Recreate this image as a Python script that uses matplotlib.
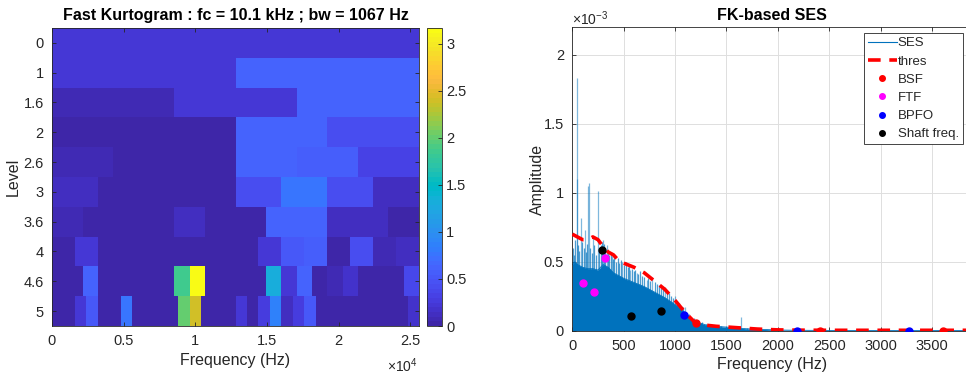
import numpy as np
import matplotlib
matplotlib.use("Agg")
import matplotlib.pyplot as plt
from matplotlib.colors import ListedColormap, Normalize
from matplotlib.cm import ScalarMappable
from matplotlib.lines import Line2D

plt.rcParams['font.family'] = ['Liberation Sans', 'DejaVu Sans']
plt.rcParams['mathtext.fontset'] = 'custom'
plt.rcParams['mathtext.rm'] = 'Liberation Sans'
plt.rcParams['mathtext.it'] = 'Liberation Sans'

# ---------------- data: kurtogram ----------------
level_labels = ['0', '1', '1.6', '2', '2.6', '3', '3.6', '4', '4.6', '5']
fmax_hz = 25600
kurt_l0 = [0.23]
kurt_l1 = [0.20, 0.63]
kurt_l16 = [0.05, 0.20, 0.62]
kurt_l2 = [0.02, 0.02, 0.62, 0.43]
kurt_l26 = [0.08, 0.03, 0.03, 0.62, 0.55, 0.30]
kurt_l3 = [0.10, 0.03, 0.03, 0.03, 0.40, 0.78, 0.41, 0.12]
kurt_l36 = [0.09, 0.03, 0.03, 0.03, 0.10, 0.03, 0.03, 0.60, 0.63, 0.13, 0.12, 0.02]
kurt_l4 = [0.04, 0.23, 0.03, 0.03, 0.03, 0.03, 0.03, 0.03, 0.03, 0.24, 0.52, 0.55,
           0.03, 0.42, 0.05, 0.10]
kurt_l46 = [0.03, 0.03, 0.60, 0.03, 0.03, 0.03, 0.03, 0.03, 1.84, 3.17, 0.03, 0.03,
            0.03, 0.03, 1.33, 0.24, 0.60, 0.03, 0.07, 0.17, 0.03, 0.03, 0.03, 0.36]
kurt_l5 = [0.03, 0.03, 0.23, 0.50, 0.03, 0.03, 0.78, 0.03, 0.03, 0.03, 0.03, 2.00,
           2.39, 0.03, 0.03, 0.03, 0.23, 0.03, 0.25, 0.88, 0.13, 0.25, 0.50, 0.03,
           0.03, 0.03, 0.03, 0.03, 0.03, 0.03, 0.03, 0.18]
kurt_rows = [kurt_l0, kurt_l1, kurt_l16, kurt_l2, kurt_l26, kurt_l3, kurt_l36,
             kurt_l4, kurt_l46, kurt_l5]
kurt_xticks = [0, 5000, 10000, 15000, 20000, 25000]
kurt_xticklabels = ['0', '0.5', '1', '1.5', '2', '2.5']
cbar_ticks = [0, 0.5, 1, 1.5, 2, 2.5, 3]
cbar_ticklabels = ['0', '0.5', '1', '1.5', '2', '2.5', '3']

# ---------------- data: SES (amplitudes in units of 1e-3) ----------------
ses_f = [0, 25, 50, 100, 150, 200, 250, 300, 350, 400, 500, 600, 700, 800, 900,
         1000, 1100, 1150, 1200, 1300, 1400, 1500, 1600, 1700, 1800, 1900, 2000,
         2200, 2500, 3000, 3500, 3900]
ses_dense = [0.48, 0.50, 0.48, 0.46, 0.45, 0.45, 0.44, 0.48, 0.46, 0.42, 0.38, 0.35,
             0.32, 0.28, 0.24, 0.19, 0.13, 0.095, 0.065, 0.042, 0.032, 0.026, 0.019,
             0.014, 0.011, 0.008, 0.005, 0.003, 0.002, 0.002, 0.002, 0.002]
spike_f = [41, 49, 81, 120, 156, 163, 205, 247, 300, 334, 383, 485, 565, 626, 723,
           780, 902, 999, 1096, 1645]
spike_a = [1.83, 1.10, 0.82, 0.73, 1.05, 1.07, 0.69, 1.01, 0.66, 0.62, 0.54, 0.50,
           0.44, 0.42, 0.37, 0.39, 0.32, 0.25, 0.17, 0.10]
minor_f = [10, 20, 30, 60, 70, 90, 110, 130, 140, 175, 190, 215, 230, 260, 275, 290,
           310, 320, 345, 360, 375, 395, 410, 425, 440, 455, 470, 500, 520, 540, 555,
           580, 600, 615, 640, 660, 680, 700, 740, 760, 800, 820, 840, 860, 880, 920,
           940, 960, 980, 1020, 1040, 1060, 1080, 1120, 1140, 1180, 1220, 1260, 1300,
           1350, 1400, 1450, 1500, 1550, 1600, 1700, 1750, 1800]
minor_a = [0.60, 0.55, 0.66, 0.62, 0.58, 0.64, 0.60, 0.57, 0.63, 0.60, 0.56, 0.62,
           0.55, 0.58, 0.62, 0.64, 0.63, 0.60, 0.58, 0.55, 0.57, 0.52, 0.55, 0.50,
           0.53, 0.49, 0.51, 0.48, 0.50, 0.46, 0.47, 0.45, 0.43, 0.44, 0.41, 0.43,
           0.40, 0.39, 0.38, 0.36, 0.35, 0.34, 0.33, 0.31, 0.30, 0.28, 0.27, 0.25,
           0.24, 0.21, 0.20, 0.18, 0.17, 0.13, 0.12, 0.09, 0.07, 0.06, 0.05, 0.045,
           0.04, 0.035, 0.033, 0.03, 0.028, 0.022, 0.02, 0.017]
thr_f = [0, 50, 100, 150, 200, 250, 300, 350, 400, 450, 500, 600, 700, 800, 900,
         1000, 1100, 1200, 1300, 1400, 1600, 1800, 2000, 2200, 2500, 3000, 3500, 3900]
thr_a = [0.70, 0.68, 0.66, 0.66, 0.68, 0.66, 0.61, 0.57, 0.55, 0.51, 0.49, 0.46,
         0.42, 0.36, 0.30, 0.22, 0.13, 0.055, 0.04, 0.032, 0.022, 0.012, 0.006,
         0.004, 0.003, 0.003, 0.003, 0.003]
bsf_f = [1204, 2408, 3612]
bsf_a = [0.053, 0.0, 0.0]
ftf_f = [107, 214, 321]
ftf_a = [0.343, 0.278, 0.527]
bpfo_f = [1091, 2182, 3273]
bpfo_a = [0.116, 0.0, 0.0]
shaft_f = [287, 575, 863]
shaft_a = [0.585, 0.104, 0.140]
ses_xticks = [0, 500, 1000, 1500, 2000, 2500, 3000, 3500]
ses_yticks = [0, 0.5, 1, 1.5, 2]
ses_yticklabels = ['0', '0.5', '1', '1.5', '2']
AMP_SCALE = 1e-3

# ---------------- parula colormap ----------------
parula_data = [
    [0.2422, 0.1504, 0.6603], [0.2504, 0.1650, 0.7076], [0.2578, 0.1818, 0.7511],
    [0.2647, 0.1978, 0.7952], [0.2706, 0.2147, 0.8364], [0.2751, 0.2342, 0.8710],
    [0.2783, 0.2559, 0.8991], [0.2803, 0.2782, 0.9221], [0.2813, 0.3006, 0.9414],
    [0.2810, 0.3228, 0.9579], [0.2795, 0.3447, 0.9717], [0.2760, 0.3667, 0.9829],
    [0.2699, 0.3892, 0.9906], [0.2602, 0.4123, 0.9952], [0.2440, 0.4358, 0.9988],
    [0.2206, 0.4603, 0.9973], [0.1963, 0.4847, 0.9892], [0.1834, 0.5074, 0.9798],
    [0.1786, 0.5289, 0.9682], [0.1764, 0.5499, 0.9520], [0.1687, 0.5703, 0.9359],
    [0.1540, 0.5902, 0.9218], [0.1460, 0.6091, 0.9079], [0.1380, 0.6276, 0.8973],
    [0.1248, 0.6459, 0.8883], [0.1113, 0.6635, 0.8763], [0.0952, 0.6798, 0.8598],
    [0.0689, 0.6948, 0.8394], [0.0297, 0.7082, 0.8163], [0.0036, 0.7203, 0.7917],
    [0.0067, 0.7312, 0.7660], [0.0433, 0.7411, 0.7394], [0.0964, 0.7500, 0.7120],
    [0.1408, 0.7584, 0.6842], [0.1717, 0.7670, 0.6554], [0.1938, 0.7758, 0.6251],
    [0.2161, 0.7843, 0.5923], [0.2470, 0.7918, 0.5567], [0.2906, 0.7973, 0.5188],
    [0.3406, 0.8008, 0.4789], [0.3909, 0.8029, 0.4354], [0.4456, 0.8024, 0.3909],
    [0.5044, 0.7993, 0.3480], [0.5616, 0.7942, 0.3045], [0.6174, 0.7876, 0.2612],
    [0.6720, 0.7793, 0.2227], [0.7242, 0.7698, 0.1910], [0.7738, 0.7598, 0.1646],
    [0.8203, 0.7498, 0.1535], [0.8634, 0.7406, 0.1596], [0.9035, 0.7330, 0.1774],
    [0.9393, 0.7288, 0.2100], [0.9728, 0.7298, 0.2394], [0.9956, 0.7434, 0.2371],
    [0.9970, 0.7659, 0.2199], [0.9952, 0.7893, 0.2028], [0.9892, 0.8136, 0.1885],
    [0.9786, 0.8386, 0.1766], [0.9676, 0.8639, 0.1643], [0.9610, 0.8890, 0.1537],
    [0.9597, 0.9135, 0.1423], [0.9628, 0.9373, 0.1265], [0.9691, 0.9606, 0.1064],
    [0.9769, 0.9839, 0.0805]]
parula = ListedColormap(parula_data, name='parula')

TXT = '#262626'
W, H = 966, 381
fig = plt.figure(figsize=(W / 100, H / 100), dpi=100)

def fx(px):
    return px / W

def fy(py):
    return 1 - py / H

# ---------------- left: kurtogram ----------------
axk = fig.add_axes([fx(52), fy(326), fx(419 - 52), (326 - 28) / H])
all_vals = [v for r in kurt_rows for v in r]
norm = Normalize(vmin=0, vmax=max(all_vals))
for i, row in enumerate(kurt_rows):
    xe = np.linspace(0, fmax_hz, len(row) + 1)
    ye = [i - 0.5, i + 0.5]
    axk.pcolormesh(xe, ye, np.array([row]), cmap=parula, norm=norm,
                   edgecolors='none', antialiased=False)
axk.set_xlim(0, fmax_hz)
axk.set_ylim(len(kurt_rows) - 0.5, -0.5)
axk.set_yticks(range(len(level_labels)))
axk.set_yticklabels(level_labels)
axk.set_xticks(kurt_xticks)
axk.set_xticklabels(kurt_xticklabels)
axk.tick_params(direction='in', top=True, right=True, length=3, width=0.6,
                labelsize=10.5, colors=TXT, labelcolor=TXT, pad=6)
for s in axk.spines.values():
    s.set_color('#262626')
    s.set_linewidth(0.6)
axk.set_xlabel('Frequency (Hz)', fontsize=11.5, color=TXT, labelpad=3)
axk.set_ylabel('Level', fontsize=11.5, color=TXT, labelpad=2)
axk.set_title('Fast Kurtogram : fc = 10.1 kHz ; bw = 1067 Hz', fontsize=11.5,
              fontweight='bold', color='black', pad=6)
fig.text(fx(402), fy(366), r'$\times10^{4}$', fontsize=10, color=TXT,
         ha='center', va='center')

cax = fig.add_axes([fx(427), fy(326), fx(15), (326 - 28) / H])
sm = ScalarMappable(norm=norm, cmap=parula)
cb = fig.colorbar(sm, cax=cax)
cb.set_ticks(cbar_ticks)
cb.set_ticklabels(cbar_ticklabels)
cb.outline.set_linewidth(0.6)
cb.outline.set_edgecolor('#262626')
cax.tick_params(direction='in', length=3, width=0.6, labelsize=10.5,
                colors=TXT, labelcolor=TXT, pad=3)

# ---------------- right: SES ----------------
ax = fig.add_axes([fx(572.3), fy(330.7), fx(971 - 572.3), (330.7 - 27.3) / H])
ses_c = '#0072BD'
sf = np.array(ses_f)
ax.vlines(minor_f, 0, np.array(minor_a) * AMP_SCALE, color=ses_c, lw=0.9,
          alpha=0.7, zorder=1.5)
ax.vlines(spike_f, 0, np.array(spike_a) * AMP_SCALE, color=ses_c, lw=0.9,
          alpha=0.5, zorder=1.5)
ax.fill_between(sf, 0, np.array(ses_dense) * AMP_SCALE, color=ses_c, lw=0,
                zorder=2)
ax.plot(sf, np.array(ses_dense) * AMP_SCALE, color=ses_c, lw=0.6, zorder=2)
ax.plot(thr_f, np.array(thr_a) * AMP_SCALE, color='red', lw=2.6,
        dashes=(3.5, 2.4), zorder=3)
ms = 5
ax.plot(bsf_f, np.array(bsf_a) * AMP_SCALE, 'o', color='red', ms=ms, zorder=4)
ax.plot(ftf_f, np.array(ftf_a) * AMP_SCALE, 'o', color='magenta', ms=ms, zorder=4)
ax.plot(bpfo_f, np.array(bpfo_a) * AMP_SCALE, 'o', color='blue', ms=ms, zorder=4)
ax.plot(shaft_f, np.array(shaft_a) * AMP_SCALE, 'o', color='black', ms=ms, zorder=4)

ax.set_xlim(0, 3880)
ax.set_ylim(0, 2.2e-3)
ax.set_xticks(ses_xticks)
ax.set_xticklabels([str(v) for v in ses_xticks])
ax.set_yticks([v * AMP_SCALE for v in ses_yticks])
ax.set_yticklabels(ses_yticklabels)
ax.grid(True, color='#dedede', lw=0.7)
ax.set_axisbelow(True)
ax.tick_params(direction='in', top=True, right=False, length=3, width=0.6,
               labelsize=10.5, colors=TXT, labelcolor=TXT, pad=6)
ax.spines['right'].set_visible(False)
for s in ['left', 'top', 'bottom']:
    ax.spines[s].set_color('#262626')
    ax.spines[s].set_linewidth(0.6)
ax.set_xlabel('Frequency (Hz)', fontsize=11.5, color=TXT, labelpad=3)
ax.set_ylabel('Amplitude', fontsize=11.5, color=TXT, labelpad=-1)
fig.text(fx(772), fy(15), 'FK-based SES', fontsize=11.5, fontweight='bold',
         color='black', ha='center', va='center')
fig.text(fx(572), fy(19), r'$\times10^{-3}$', fontsize=10, color=TXT,
         ha='left', va='center')

handles = [Line2D([], [], color=ses_c, lw=0.8),
           Line2D([], [], color='red', lw=2.6, dashes=(3.5, 2.4)),
           Line2D([], [], color='red', marker='o', ls='none', ms=4),
           Line2D([], [], color='magenta', marker='o', ls='none', ms=4),
           Line2D([], [], color='blue', marker='o', ls='none', ms=4),
           Line2D([], [], color='black', marker='o', ls='none', ms=4)]
labels = ['SES', 'thres', 'BSF', 'FTF', 'BPFO', 'Shaft freq.']
leg = fig.legend(handles, labels, loc='upper right',
                 bbox_to_anchor=(fx(963), fy(33.3)), fontsize=9.5,
                 frameon=True, fancybox=False, edgecolor='#262626',
                 framealpha=1, handlelength=2.2, handletextpad=0.1,
                 labelspacing=0.45, borderpad=0.3, borderaxespad=0)
leg.get_frame().set_linewidth(0.6)
for t in leg.get_texts():
    t.set_color(TXT)

fig.savefig('out.png', dpi=100)
